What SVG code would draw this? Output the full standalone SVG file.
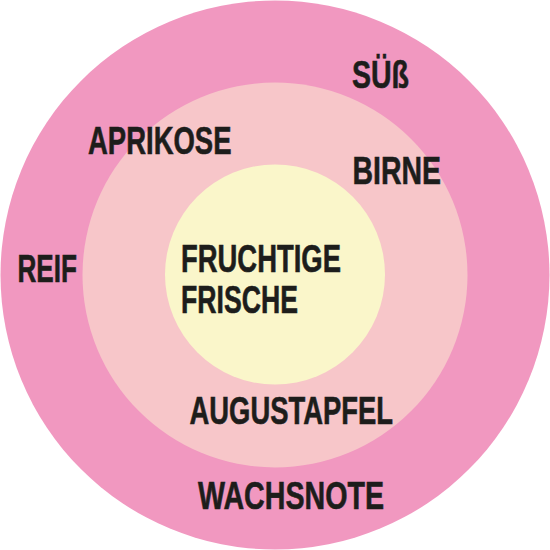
<svg xmlns="http://www.w3.org/2000/svg" width="550" height="550" viewBox="0 0 550 550">
<style>
text{font-family:"Liberation Sans",Arial,sans-serif;font-weight:bold;font-size:38px;fill:#1d1d1b;stroke:#1d1d1b;stroke-width:0.6}
</style>
<rect width="550" height="550" fill="#ffffff"/>
<g id="outer"><circle cx="275" cy="275" r="274.5" fill="#f198c0"/></g>
<g id="middle"><circle cx="275" cy="275" r="192.5" fill="#f7c6c9"/></g>
<g id="inner"><circle cx="275" cy="274.5" r="110" fill="#faf6ca"/></g>
<g id="connectors"></g>
<g id="labels">
<text x="352" y="88" textLength="57" lengthAdjust="spacingAndGlyphs">SÜß</text>
<text x="88" y="154" textLength="143.5" lengthAdjust="spacingAndGlyphs">APRIKOSE</text>
<text x="352.5" y="183.5" textLength="88.5" lengthAdjust="spacingAndGlyphs">BIRNE</text>
<text x="17.5" y="282" textLength="59.5" lengthAdjust="spacingAndGlyphs">REIF</text>
<text x="181" y="272" textLength="160" lengthAdjust="spacingAndGlyphs">FRUCHTIGE</text>
<text x="181" y="313" textLength="117" lengthAdjust="spacingAndGlyphs">FRISCHE</text>
<text x="189.5" y="424" textLength="203.5" lengthAdjust="spacingAndGlyphs">AUGUSTAPFEL</text>
<text x="198" y="509" textLength="186" lengthAdjust="spacingAndGlyphs">WACHSNOTE</text>
</g>
</svg>
